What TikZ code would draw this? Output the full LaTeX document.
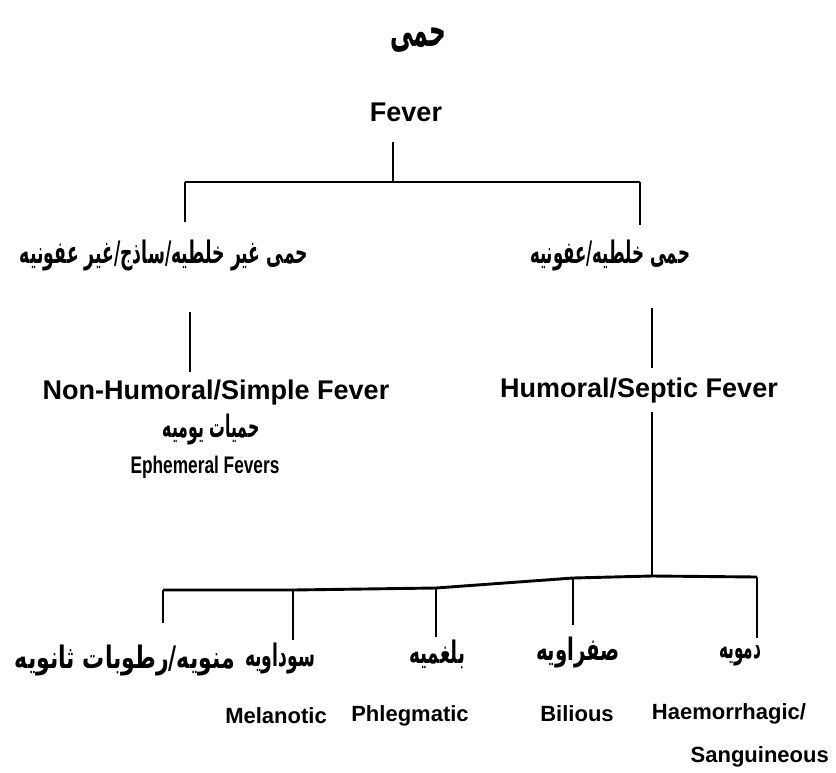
\documentclass[tikz,border=0pt]{standalone}
\usepackage{fontspec}
\setmainfont{Liberation Sans}
\newfontfamily\urdufont[Script=Arabic]{DejaVu Sans}
\TeXXeTstate=1
% Urdu line squeezed to a given width, natural height kept
\newcommand{\urdw}[2]{\resizebox{#1}{\height}{#2}}
\tikzset{
  link/.style={line width=2.9pt, line cap=butt, line join=miter},
  en/.style={font=\fontsize{27}{30}\selectfont\bfseries, inner sep=0pt},
  ensm/.style={font=\fontsize{22}{25}\selectfont\bfseries, inner sep=0pt},
  ur/.style={font=\urdufont\bfseries\fontsize{31}{36}\selectfont, inner sep=0pt},
}
\begin{document}
\begin{tikzpicture}[x=1pt, y=-1pt]
  \useasboundingbox (0,0) rectangle (836,772);

  % root
  \node[ur, font=\urdufont\bfseries\fontsize{46}{50}\selectfont] (rootur) at (418,40)
    {\urdw{56pt}{\beginR حمی\endR}};
  \node[en] (fever) at (406,112) {Fever};

  % first split
  \coordinate (f0) at (393,142);
  \coordinate (fj) at (393,182);
  \coordinate (lj) at (185,182);
  \coordinate (rj) at (640,182);
  \coordinate (lt) at (185,222);
  \coordinate (rt) at (640,225);
  \draw[link] (f0) -- (fj);
  \draw[link] (lj) -- (rj);
  \draw[link] (lj) -- (lt);
  \draw[link] (rj) -- (rt);

  % left branch
  \node[ur] (simpleur) at (164,256) {\urdw{288pt}{\beginR حمی غیر خلطیه/ساذج/غیر عفونیه\endR}};
  \coordinate (ls0) at (190,312);
  \coordinate (ls1) at (190,372);
  \draw[link] (ls0) -- (ls1);
  \node[en] (simple) at (216,393) {Non-Humoral/Simple Fever};
  \node[ur] (ephur) at (211,430) {\urdw{97pt}{\beginR حمیات یومیه\endR}};
  \node[en, font=\fontsize{24}{28}\selectfont\bfseries] (eph) at (205,467)
    {\scalebox{0.72}[1]{Ephemeral Fevers}};

  % right branch
  \node[ur] (septicur) at (610,256) {\urdw{160pt}{\beginR حمی خلطیه/عفونیه\endR}};
  \coordinate (rs0) at (652,308);
  \coordinate (rs1) at (652,368);
  \draw[link] (rs0) -- (rs1);
  \node[en] (septic) at (639,391) {Humoral/Septic Fever};
  \coordinate (rd0) at (652,412);
  \coordinate (rd1) at (652,576);
  \draw[link] (rd0) -- (rd1);

  % humours bar
  \coordinate (b1) at (163,590);
  \coordinate (b2) at (293,590);
  \coordinate (b3) at (436,588);
  \coordinate (b4) at (573,578);
  \coordinate (b5) at (757,577);
  \draw[link] (b1) -- (b2) -- (b3) -- (b4) -- (rd1) -- (b5);
  \coordinate (d1) at (163,623);
  \coordinate (d2) at (293,640);
  \coordinate (d3) at (436,637);
  \coordinate (d4) at (573,625);
  \coordinate (d5) at (757,638);
  \draw[link] (b1) -- (d1);
  \draw[link] (b2) -- (d2);
  \draw[link] (b3) -- (d3);
  \draw[link] (b4) -- (d4);
  \draw[link] (b5) -- (d5);

  % humour labels
  \node[ur] (manawi) at (125,660) {\urdw{220pt}{\beginR منویه/رطوبات ثانویه\endR}};
  \node[ur] (sauda) at (280,658) {\urdw{70pt}{\beginR سوداویه\endR}};
  \node[ur] (balgham) at (437,654) {\urdw{56pt}{\beginR بلغمیه\endR}};
  \node[ur] (safra) at (578,652) {\urdw{84pt}{\beginR صفراویه\endR}};
  \node[ur] (dam) at (740,656) {\urdw{42pt}{\beginR دمویه\endR}};

  \node[ensm] (melan) at (276,716) {Melanotic};
  \node[ensm] (phleg) at (410,716) {Phlegmatic};
  \node[ensm] (bil) at (577,714) {Bilious};
  \node[ensm] (haem) at (729,714) {Haemorrhagic/};
  \node[ensm, anchor=east] (sang) at (829,757) {Sanguineous};
\end{tikzpicture}
\end{document}
